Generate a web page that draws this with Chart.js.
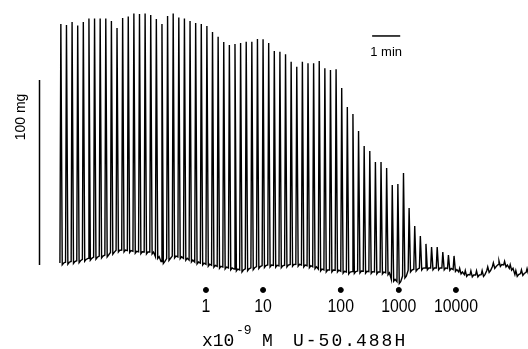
<!DOCTYPE html>
<html>
<head>
<meta charset="utf-8">
<script src="https://cdn.jsdelivr.net/npm/chart.js@4/dist/chart.umd.min.js"></script>
<style>
  body { margin: 0; background: #fff; }
  #wrap { width: 528px; height: 349px; }
</style>
</head>
<body>
<div id="wrap"><canvas id="trace" width="528" height="349"></canvas></div>
<script>
// Twitch tension trace, one stimulus every 12 s (values in mg)
const period = 12;

// peak tension of each twitch
const twitchPeak = [
  130.3, 129.7, 131.4, 129.5, 131.4, 133.2, 133.2, 133.2, 133.2, 131.9,
  128.1, 133.5, 134.3, 135.9, 135.7, 135.9, 135.1, 133.0, 130.3, 134.6,
  135.9, 133.8, 133.2, 131.9, 130.8, 130.3, 129.2, 125.9, 123.4, 120.5,
  118.9, 119.5, 120.0, 120.7, 120.7, 122.2, 122.0, 120.0, 115.7, 115.3,
  113.9, 109.9, 107.2, 109.9, 109.0, 109.0, 110.3, 106.3, 105.4, 105.8,
  95.7, 85.4, 81.6, 72.4, 64.3, 61.6, 55.7, 55.7, 52.4, 43.2,
  43.8, 49.7, 30.8, 21.1, 15.7, 11.4, 9.7, 9.7, 7.0, 5.4,
  4.9, -1.8, -3.0, -3.2, -3.2, -3.0, -1.0, 1.2, 2.2, 2.0,
  0.2, -3.0, -2.6, -2.0
];

// resting tension between twitches
const restingTension = [
  1.1, 1.5, 1.9, 2.3, 3.0, 3.6, 4.2, 4.8, 5.4, 6.8,
  8.0, 8.1, 7.8, 7.4, 7.1, 7.0, 7.0, 4.5, 1.8, 3.5,
  4.8, 4.4, 3.6, 2.6, 1.6, 1.0, 0.4, -0.2, -0.7, -1.1,
  -1.6, -2.2, -2.7, -2.1, -1.5, -0.9, -0.3, 0.0, -0.2, -0.5,
  -0.1, 0.3, 0.4, 0.0, -0.4, -1.0, -2.2, -2.7, -2.7, -2.8,
  -3.4, -3.8, -3.6, -3.3, -3.4, -3.6, -3.8, -3.8, -4.2, -7.8,
  -9.0, -6.0, -2.8, -2.3, -1.7, -1.6, -1.6, -1.6, -1.6, -1.9,
  -2.5, -3.8, -5.2, -5.4, -5.4, -5.2, -3.0, -0.8, 0.2, 0.0,
  -1.8, -5.2, -4.6, -4.0
];

// U-50,488H additions (x10^-9 M), time in s
const doseLabels = ['1', '10', '100', '1000', '10000'];
const doseTimes = [312, 434, 600, 724, 846];

// calibration bars
const timeBar = [667, 727];     // 1 min
const tensionBar = [0, 100];    // 100 mg

const trace = [];
restingTension.forEach((base, i) => {
    const t = i * period;
    trace.push({ x: t, y: base });
    trace.push({ x: t + 2, y: twitchPeak[i] });
    trace.push({ x: t + 5, y: base - 1 });
    trace.push({ x: t + 8, y: base });
});

const doseLevel = -13.5;
const labelLevel = -22.5;

const textPlugin = {
    id: 'traceText',
    afterDatasetsDraw(chart) {
        const { ctx, scales: { x, y } } = chart;
        ctx.save();
        ctx.fillStyle = '#000';

        // dose labels
        ctx.font = '18px "Liberation Sans"';
        ctx.textAlign = 'center';
        ctx.textBaseline = 'middle';
        doseLabels.forEach((lab, i) => {
            ctx.save();
            ctx.translate(x.getPixelForValue(doseTimes[i]), y.getPixelForValue(labelLevel));
            ctx.scale(0.88, 1);
            ctx.fillText(lab, 0, 0);
            ctx.restore();
        });

        // 1 min
        ctx.font = '13px "Liberation Sans"';
        ctx.fillText('1 min', x.getPixelForValue((timeBar[0] + timeBar[1]) / 2), y.getPixelForValue(115));

        // 100 mg
        ctx.save();
        ctx.translate(x.getPixelForValue(-83), y.getPixelForValue(80));
        ctx.rotate(-Math.PI / 2);
        ctx.font = '14px "Liberation Sans"';
        ctx.fillText('100 mg', 0, 0);
        ctx.restore();

        // caption
        ctx.textAlign = 'left';
        ctx.textBaseline = 'alphabetic';
        ctx.font = '18px "Liberation Mono"';
        ctx.fillText('x10', 202, 346);
        ctx.font = '13px "Liberation Mono"';
        ctx.fillText('-9', 236, 334);
        ctx.font = '18px "Liberation Mono"';
        ctx.fillText('M', 262, 346);
        ctx.letterSpacing = '2px';
        ctx.fillText('U-50.', 293, 346);
        ctx.fillText('488H', 356, 346);
        ctx.restore();
    }
};

new Chart(document.getElementById('trace'), {
    type: 'line',
    data: {
        datasets: [
            {
                data: trace,
                borderColor: '#000',
                borderWidth: 1.4,
                pointRadius: 0,
                tension: 0
            },
            {
                data: tensionBar.map(v => ({ x: -43.6, y: v })),
                borderColor: '#000',
                borderWidth: 1.5,
                pointRadius: 0
            },
            {
                data: timeBar.map(t => ({ x: t, y: 123.8 })),
                borderColor: '#000',
                borderWidth: 1.5,
                pointRadius: 0
            },
            {
                type: 'scatter',
                data: doseTimes.map(t => ({ x: t, y: doseLevel })),
                backgroundColor: '#000',
                borderColor: '#000',
                pointRadius: 2.5
            }
        ]
    },
    options: {
        responsive: false,
        animation: false,
        devicePixelRatio: 1,
        layout: { padding: 0, autoPadding: false },
        plugins: { legend: { display: false }, tooltip: { enabled: false } },
        scales: {
            x: { type: 'linear', min: -128, max: 1000, display: false },
            y: { type: 'linear', min: -45.41, max: 143.24, display: false }
        }
    },
    plugins: [textPlugin]
});
</script>
</body>
</html>
